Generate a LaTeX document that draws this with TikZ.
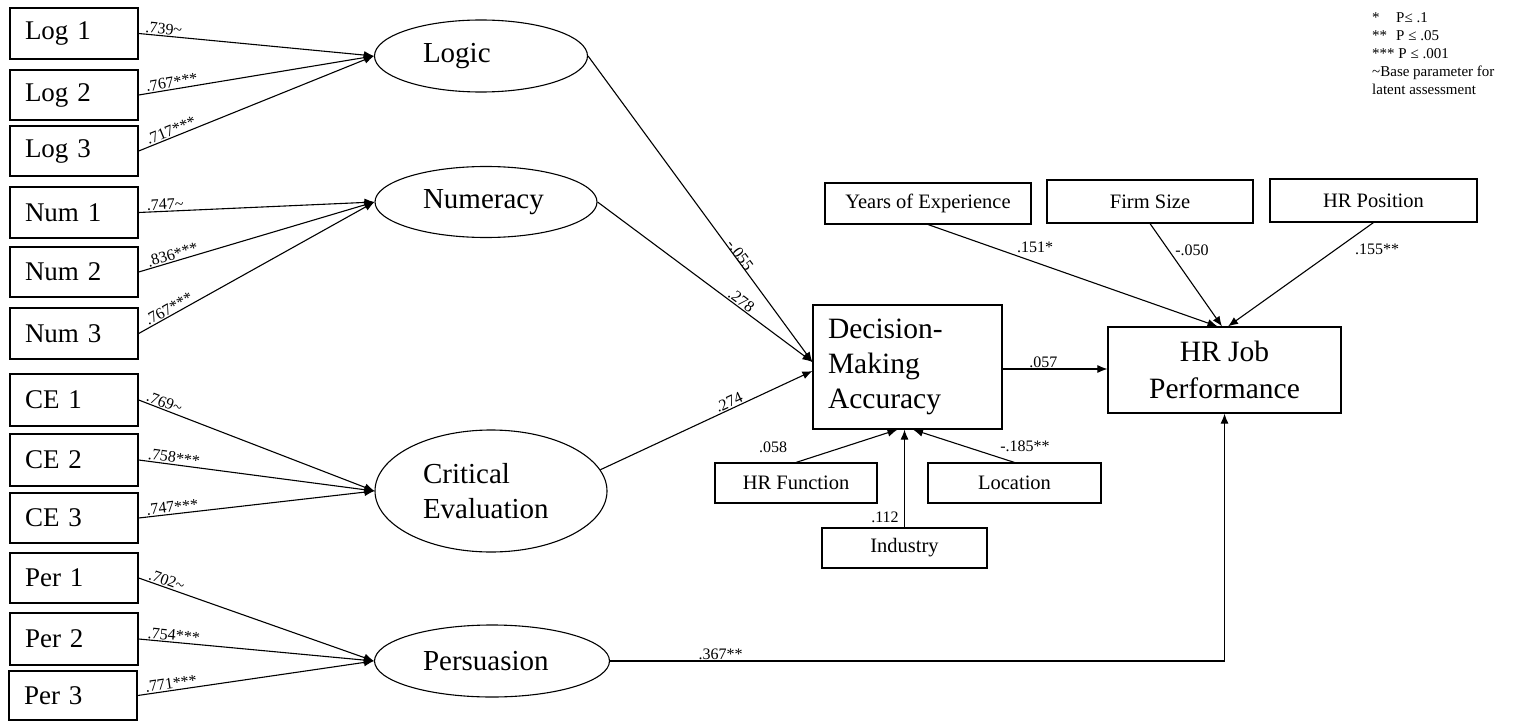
\documentclass[tikz,border=0pt]{standalone}
\usepackage{fontspec}
\setmainfont{Liberation Serif}
\usetikzlibrary{arrows.meta,shapes.geometric}
\begin{document}
\begin{tikzpicture}[x=1pt,y=-1pt,
  ind/.style={draw, line width=1.4pt, minimum width=128pt, minimum height=51pt,
    text width=98pt, align=left, inner sep=0pt, font=\fontsize{27}{32}\selectfont},
  lat/.style={draw, ellipse, line width=1.1pt, inner sep=0pt, align=left,
    font=\fontsize{29}{35}\selectfont},
  ctrl/.style={draw, line width=1.1pt, inner sep=0pt, align=center,
    font=\fontsize{20.5}{24}\selectfont},
  big/.style={draw, line width=1.2pt, inner sep=0pt},
  arr/.style={line width=1.1pt, -{Latex[length=10pt,width=8pt]}},
  coef/.style={font=\fontsize{16}{18}\selectfont, inner sep=1pt},
]
\useasboundingbox (0,0) rectangle (1514,722);

% indicators
\node[ind, minimum height=51pt] (log1) at (74,33.5) {Log 1};
\node[ind, minimum height=50pt] (log2) at (74,95) {Log 2};
\node[ind, minimum height=50pt] (log3) at (74,151) {Log 3};
\node[ind] (num1) at (74,212.5) {Num 1};
\node[ind, minimum height=50pt] (num2) at (74,272) {Num 2};
\node[ind] (num3) at (74,333.5) {Num 3};
\node[ind, minimum height=52pt] (ce1) at (74,400) {CE 1};
\node[ind, minimum height=52pt] (ce2) at (74,460) {CE 2};
\node[ind, minimum height=50pt] (ce3) at (74,518) {CE 3};
\node[ind, minimum height=50pt] (per1) at (74,578) {Per 1};
\node[ind, minimum height=52pt] (per2) at (74,639) {Per 2};
\node[ind, minimum height=49pt] (per3) at (73,695.5) {Per 3};

% latent constructs
\node[lat, minimum width=213pt, minimum height=72pt, text width=116pt] (logic) at (481,56) {Logic};
\node[lat, minimum width=222pt, minimum height=71pt, text width=126pt] (num) at (486,202) {Numeracy};
\node[lat, minimum width=232pt, minimum height=122pt, text width=136pt] (ce) at (491,491) {Critical\\Evaluation};
\node[lat, minimum width=235pt, minimum height=72pt, text width=138pt] (per) at (492,661) {Persuasion};

% outcomes
\node[big, minimum width=189pt, minimum height=124pt, text width=159pt, align=left,
  font=\fontsize{29.5}{35}\selectfont] (dma) at (907.5,367) {Decision-\\Making\\Accuracy};
\node[big, minimum width=233pt, minimum height=86pt, align=center,
  font=\fontsize{29.5}{37}\selectfont] (hrjp) at (1224.5,370) {HR Job\\Performance};

% control variables
\node[ctrl, minimum width=206pt, minimum height=41pt] (years) at (928,203.5) {Years of Experience};
\node[ctrl, minimum width=206pt, minimum height=43pt] (firm) at (1150,201.5) {Firm Size};
\node[ctrl, minimum width=207pt, minimum height=43pt] (hrpos) at (1373.5,200.5) {HR Position};
\node[ctrl, minimum width=162pt, minimum height=40pt] (hrf) at (796,483) {HR Function};
\node[ctrl, minimum width=173pt, minimum height=40pt] (loc) at (1014.5,483) {Location};
\node[ctrl, minimum width=165pt, minimum height=40pt] (ind) at (904.5,548) {Industry};

% measurement loadings
\draw[arr] (log1.east) -- (logic.west) node[coef, sloped, pos=0.02, anchor=south west] {.739\textasciitilde};
\draw[arr] (log2.east) -- (logic.west) node[coef, sloped, pos=0.03, anchor=south west] {.767***};
\draw[arr] (log3.east) -- (logic.west) node[coef, sloped, pos=0.04, anchor=south west] {.717***};
\draw[arr] (num1.east) -- (num.west) node[coef, sloped, pos=0.03, anchor=south west] {.747\textasciitilde};
\draw[arr] (num2.east) -- (num.west) node[coef, sloped, pos=0.04, anchor=south west] {.836***};
\draw[arr] (num3.east) -- (num.west) node[coef, sloped, pos=0.04, anchor=south west] {.767***};
\draw[arr] (ce1.east) -- (ce.west) node[coef, sloped, pos=0.02, anchor=south west] {.769\textasciitilde};
\draw[arr] (ce2.east) -- (ce.west) node[coef, sloped, pos=0.03, anchor=south west] {.758***};
\draw[arr] (ce3.east) -- (ce.west) node[coef, sloped, pos=0.03, anchor=south west] {.747***};
\draw[arr] (per1.east) -- (per.west) node[coef, sloped, pos=0.03, anchor=south west] {.702\textasciitilde};
\draw[arr] (per2.east) -- (per.west) node[coef, sloped, pos=0.03, anchor=south west] {.754***};
\draw[arr] (per3.east) -- (per.west) node[coef, sloped, pos=0.03, anchor=south west] {.771***};

% structural paths
\draw[arr] (logic.east) -- ([yshift=5pt]dma.west) node[coef, sloped, pos=0.66, above=-2pt] {-.055};
\draw[arr] (num.east) -- ([yshift=5pt]dma.west) node[coef, sloped, pos=0.65, above] {.278};
\draw[arr] (ce.11) -- ([yshift=-4pt]dma.west) node[coef, sloped, pos=0.62, above] {.274};
\draw[arr] ([yshift=-2pt]dma.east) -- ([yshift=-2pt]dma.east -| hrjp.west) node[coef, pos=0.39, above] {.057};
\draw[arr] (per.east) -| (hrjp.south) node[coef, pos=0.09, above] {.367**};

% control paths
\draw[arr] (years.south) -- ([xshift=-7pt]hrjp.north);
\draw[arr] (firm.south) -- ([xshift=-2.5pt]hrjp.north);
\draw[arr] (hrpos.south) -- ([xshift=3.5pt]hrjp.north);
\node[coef] (cyears) at (1035,247) {.151*};
\node[coef] (cfirm) at (1192,250) {-.050};
\node[coef] (chrpos) at (1377,249) {.155**};

\draw[arr] (hrf.north) -- ([xshift=-10pt]dma.south);
\draw[arr] (ind.north) -- (ind.north |- dma.south);
\draw[arr] (loc.north) -- ([xshift=5.5pt]dma.south);
\node[coef] (chrf) at (773,447) {.058};
\node[coef] (cind) at (885,517) {.112};
\node[coef] (cloc) at (1025,446) {-.185**};

% significance key
\node[anchor=north west, align=left, inner sep=0pt, font=\fontsize{15}{18}\selectfont] (key) at (1372,12)
  {\makebox[1.6em][l]{*}P≤ .1\\{}\makebox[1.6em][l]{**}P ≤ .05\\{}*** P ≤ .001\\{}\textasciitilde Base parameter for\\{}latent assessment};
\end{tikzpicture}
\end{document}
